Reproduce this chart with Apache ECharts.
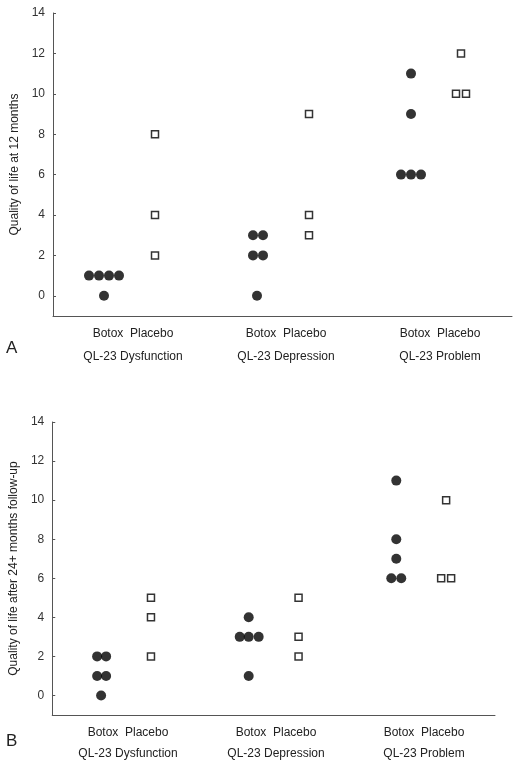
<!DOCTYPE html>
<html><head><meta charset="utf-8">
<script src="https://cdn.jsdelivr.net/npm/echarts@6/dist/echarts.min.js"></script>
<style>html,body{margin:0;padding:0;background:#fff}#c{width:514px;height:767px}</style>
</head><body><div id="c"></div>
<script>
// x positions are horizontal jitter positions within each panel (axis units)
const groups = ['QL-23 Dysfunction','QL-23 Depression','QL-23 Problem'];
const yTicks = [0,2,4,6,8,10,12,14];
// Panel A (12 months)
const aBotoxX = [36,46,56,66,51, 200,210,200,210,204, 358,358,348,358,368];
const aBotoxY = [1,1,1,1,0, 3,3,2,2,0, 11,9,6,6,6];
const aPlaceboX = [102,102,102, 256,256,256, 408,403,413];
const aPlaceboY = [8,4,2, 9,4,3, 12,10,10];
// Panel B (24+ months)
const bBotoxX = [45,54,45,54,49, 197,188,197,207,197, 345,345,345,340,350];
const bBotoxY = [2,2,1,1,0, 4,3,3,3,1, 11,8,7,6,6];
const bPlaceboX = [99,99,99, 247,247,247, 395,390,400];
const bPlaceboY = [5,4,2, 5,3,2, 10,6,6];

const zip=(xs,ys)=>xs.map((x,i)=>[x,ys[i]]);
const font='Liberation Sans, Arial, sans-serif';
function yAx(gi,name){return {gridIndex:gi,type:'value',min:-1,max:14,interval:1,
  name:name,nameLocation:'middle',nameGap:30,nameTextStyle:{fontSize:12,color:'#222',fontFamily:font},
  axisLine:{show:true,lineStyle:{color:'#555'}},
  axisTick:{show:true,inside:true,length:3,customValues:yTicks,lineStyle:{color:'#555'}},
  splitLine:{show:false},
  axisLabel:{fontSize:12,color:'#333',fontFamily:font,customValues:yTicks}};}
function xAx(gi,max){return {gridIndex:gi,type:'value',min:0,max:max,
  axisLine:{show:true,onZero:false,lineStyle:{color:'#555'}},axisTick:{show:false},axisLabel:{show:false},splitLine:{show:false}};}
const dot={color:'#000'};
const sq={color:'#fff',borderColor:'#000',borderWidth:1.5};
const txt=(x,y,t,size)=>({type:'text',left:x,top:y,style:{text:t,fontSize:size||12,fill:'#222',fontFamily:font}});
const centersA=[133,286,440], centersB=[128,276,424];
const g=[];
groups.forEach((n,i)=>{
  g.push({type:'text',x:centersA[i],y:328,style:{text:'Botox  Placebo',fontSize:12,fill:'#222',fontFamily:font,align:'center'}});
  g.push({type:'text',x:centersA[i],y:351,style:{text:n,fontSize:12,fill:'#222',fontFamily:font,align:'center'}});
  g.push({type:'text',x:centersB[i],y:727,style:{text:'Botox  Placebo',fontSize:12,fill:'#222',fontFamily:font,align:'center'}});
  g.push({type:'text',x:centersB[i],y:748,style:{text:n,fontSize:12,fill:'#222',fontFamily:font,align:'center'}});
});
g.push(txt(6,340,'A',17)); g.push(txt(6,733,'B',17));
const chart=echarts.init(document.getElementById('c'));
chart.setOption({
  animation:false,
  grid:[{left:53,right:2,top:13,height:303},{left:51,right:19,top:422,height:293}],
  xAxis:[xAx(0,459),xAx(1,444)],
  yAxis:[yAx(0,'Quality of life at 12 months'),yAx(1,'Quality of life after 24+ months follow-up')],
  graphic:g,
  series:[
    {type:'scatter',xAxisIndex:0,yAxisIndex:0,data:zip(aBotoxX,aBotoxY),symbol:'circle',symbolSize:10,itemStyle:dot},
    {type:'scatter',xAxisIndex:0,yAxisIndex:0,data:zip(aPlaceboX,aPlaceboY),symbol:'rect',symbolSize:7,itemStyle:sq},
    {type:'scatter',xAxisIndex:1,yAxisIndex:1,data:zip(bBotoxX,bBotoxY),symbol:'circle',symbolSize:10,itemStyle:dot},
    {type:'scatter',xAxisIndex:1,yAxisIndex:1,data:zip(bPlaceboX,bPlaceboY),symbol:'rect',symbolSize:7,itemStyle:sq}
  ]
});
</script></body></html>
